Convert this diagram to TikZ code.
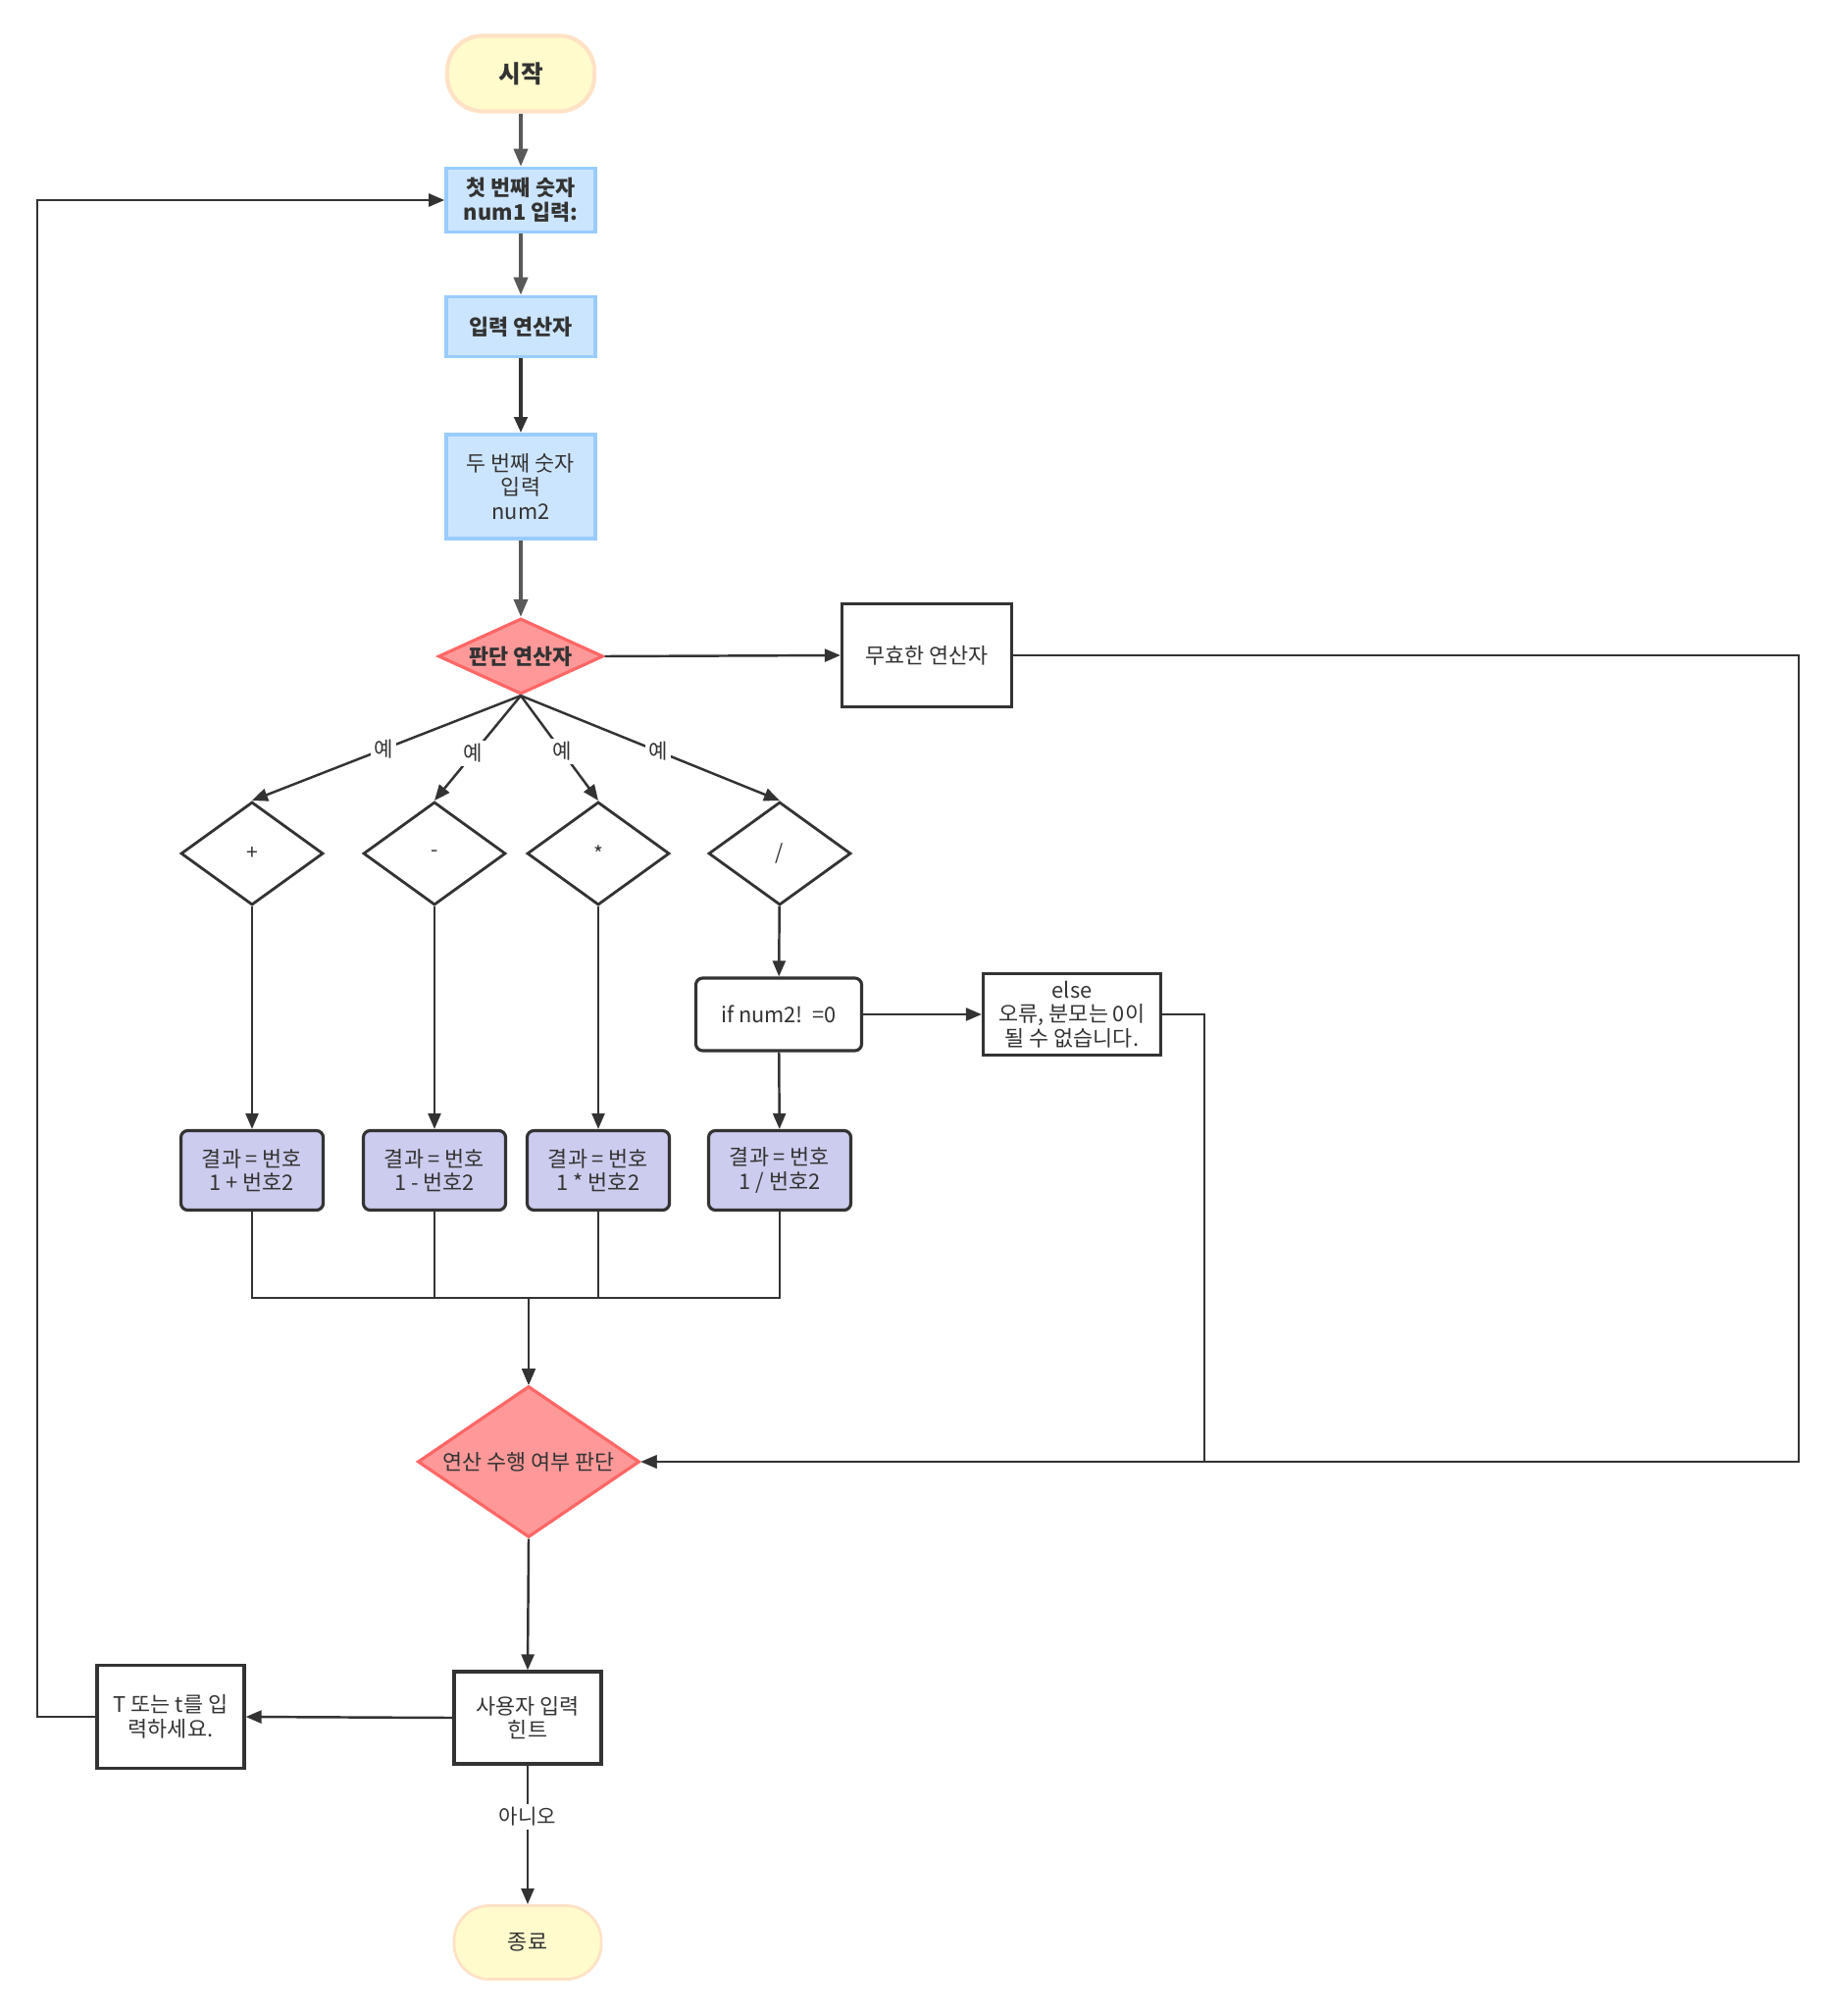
\documentclass[tikz,border=0pt]{standalone}
\usepackage{fontspec}
\setmainfont{Noto Sans CJK KR}
\usepackage{xcolor}
\usepackage{tikz}
\usetikzlibrary{positioning, arrows.meta, shapes.geometric, calc}
\definecolor{term}{HTML}{FFFBCC}
\definecolor{termline}{HTML}{FFE2C6}
\definecolor{inbox}{HTML}{CCE5FF}
\definecolor{inboxline}{HTML}{99CCFF}
\definecolor{judge}{HTML}{FF9999}
\definecolor{judgeline}{HTML}{FF6666}
\definecolor{result}{HTML}{CCCCEE}
\definecolor{ink}{HTML}{333333}
\definecolor{mute}{HTML}{595959}
\newcommand{\boxfont}{\fontsize{6.2}{7}\selectfont}
\newcommand{\bigfont}{\fontsize{7}{8}\selectfont}
\newcommand{\labfont}{\fontsize{6}{6.8}\selectfont}
\tikzset{
  terminal/.style = {rectangle, rounded corners=0.36cm, draw=termline, line width=1.2pt,
                     fill=term, minimum width=1.5cm, minimum height=0.76cm,
                     align=center, font=\boxfont, text=ink},
  inbox/.style    = {rectangle, draw=inboxline, line width=1pt, fill=inbox, inner ysep=1pt,
                     minimum width=1.52cm, align=center, font=\boxfont, text=ink},
  judgebox/.style = {diamond, draw=judgeline, line width=0.9pt, fill=judge, inner sep=0pt,
                     align=center, font=\boxfont, text=ink},
  plain/.style    = {rectangle, draw=ink, line width=0.9pt, fill=white, inner ysep=1pt,
                     align=center, font=\boxfont, text=ink},
  opbox/.style    = {diamond, draw=ink, line width=0.8pt, fill=white, inner sep=0pt,
                     minimum width=1.45cm, minimum height=1.05cm, font=\labfont, text=ink},
  resbox/.style   = {rectangle, rounded corners=2pt, draw=ink, line width=0.9pt,
                     fill=result, minimum width=1.45cm, minimum height=0.81cm,
                     align=center, font=\boxfont, text=ink},
  ar/.style       = {-{Triangle[length=1.6mm,width=1.3mm]}, line width=0.7pt, draw=ink},
  gr/.style       = {-{Triangle[length=1.8mm,width=1.4mm]}, line width=1pt, draw=mute},
  lab/.style      = {fill=white, inner sep=1pt, font=\labfont, text=ink},
}

\begin{document}
\begin{tikzpicture}[x=0.01cm, y=-0.01cm]

  \fill[white] (0,0) rectangle (1871,2055);
  \useasboundingbox (0,0) rectangle (1871,2055);

  % Input
  \node[terminal, font=\bigfont\bfseries, minimum height=0.77cm] (start) at (531,75) {시작};
  \node[inbox, minimum height=0.65cm, font=\boxfont\bfseries] (num1) at (531,204) {첫 번째 숫자\\num1 입력:};
  \node[inbox, minimum height=0.61cm, font=\boxfont\bfseries] (opin) at (531,333) {입력 연산자};
  \node[inbox, minimum height=1.06cm] (num2) at (531,496) {두 번째 숫자\\입력\\num2};
  \node[judgebox, aspect=2.2, minimum width=1.68cm, minimum height=0.77cm, font=\boxfont\bfseries] (opchk) at (531,669) {판단 연산자};
  \node[plain, minimum width=1.73cm, minimum height=1.05cm] (bad) at (945,668) {무효한 연산자};

  \draw[gr] (start) -- (num1);
  \draw[gr] (num1) -- (opin);
  \draw[ar, line width=1.1pt] (opin) -- (num2);
  \draw[gr] (num2) -- (opchk);
  \draw[ar] (opchk.east) -- (bad.west);

  % Operators
  \node[opbox] (dadd) at (257,870) {+};
  \node[opbox] (dsub) at (443,870) {-};
  \node[opbox] (dmul) at (610,870) {*};
  \node[opbox] (ddiv) at (795,870) {/};

  \draw[ar] (opchk.south) -- node[lab, pos=0.51] {예} (dadd.north);
  \draw[ar] (opchk.south) -- node[lab, pos=0.55] {예} (dsub.north);
  \draw[ar] (opchk.south) -- node[lab, pos=0.53] {예} (dmul.north);
  \draw[ar] (opchk.south) -- node[lab, pos=0.53] {예} (ddiv.north);

  % Division check
  \node[plain, rounded corners=2pt, minimum width=1.69cm, minimum height=0.74cm] (nzero) at (794,1034) {if num2!~~=0};
  \node[plain, inner ysep=0.5pt, minimum width=1.81cm, minimum height=0.83cm] (zerr) at (1093,1034) {else\\오류, 분모는 0이\\될 수 없습니다.};

  % Results
  \node[resbox] (radd) at (257,1193) {결과 = 번호\\1 + 번호2};
  \node[resbox] (rsub) at (443,1193) {결과 = 번호\\1 - 번호2};
  \node[resbox] (rmul) at (610,1193) {결과 = 번호\\1 * 번호2};
  \node[resbox] (rdiv) at (795,1193) {결과 = 번호\\1 / 번호2};

  \draw[ar] (dadd) -- (radd);
  \draw[ar] (dsub) -- (rsub);
  \draw[ar] (dmul) -- (rmul);
  \draw[ar] (ddiv) -- (nzero);
  \draw[ar] (nzero) -- (rdiv);
  \draw[ar] (nzero.east) -- (zerr.west);

  % Done check
  \node[judgebox, aspect=1.47, minimum width=2.26cm, minimum height=1.54cm] (chk) at (539,1490) {연산 수행 여부 판단};
  \coordinate (mrg) at (539,1323);
  \coordinate (rgt) at (1834,1490);
  \coordinate (mid) at (1228,1490);

  \draw[ar] (radd.south) |- (mrg) -- (chk.north);
  \draw[ar] (rsub.south) |- (mrg) -- (chk.north);
  \draw[ar] (rmul.south) |- (mrg) -- (chk.north);
  \draw[ar] (rdiv.south) |- (mrg) -- (chk.north);
  \draw[ar] (bad.east) -| (rgt) -- (chk.east);
  \draw[ar] (zerr.east) -| (mid) -- (chk.east);

  % Again or stop
  \node[plain, minimum width=1.5cm, minimum height=0.94cm] (hint) at (538,1751) {사용자 입력\\힌트};
  \node[plain, minimum width=1.5cm, minimum height=1.05cm] (again) at (174,1750) {T 또는 t를 입\\력하세요.};
  \node[terminal, line width=0.8pt, minimum height=0.75cm] (stop) at (538,1980) {종료};
  \coordinate (lft) at (38,204);

  \draw[ar] (chk.south) -- (hint.north);
  \draw[ar] (hint.west) -- (again.east);
  \draw[ar] (again.west) -| (lft) -- (num1.west);
  \draw[ar] (hint.south) -- node[lab, pos=0.37] {아니오} (stop.north);

\end{tikzpicture}
\end{document}
